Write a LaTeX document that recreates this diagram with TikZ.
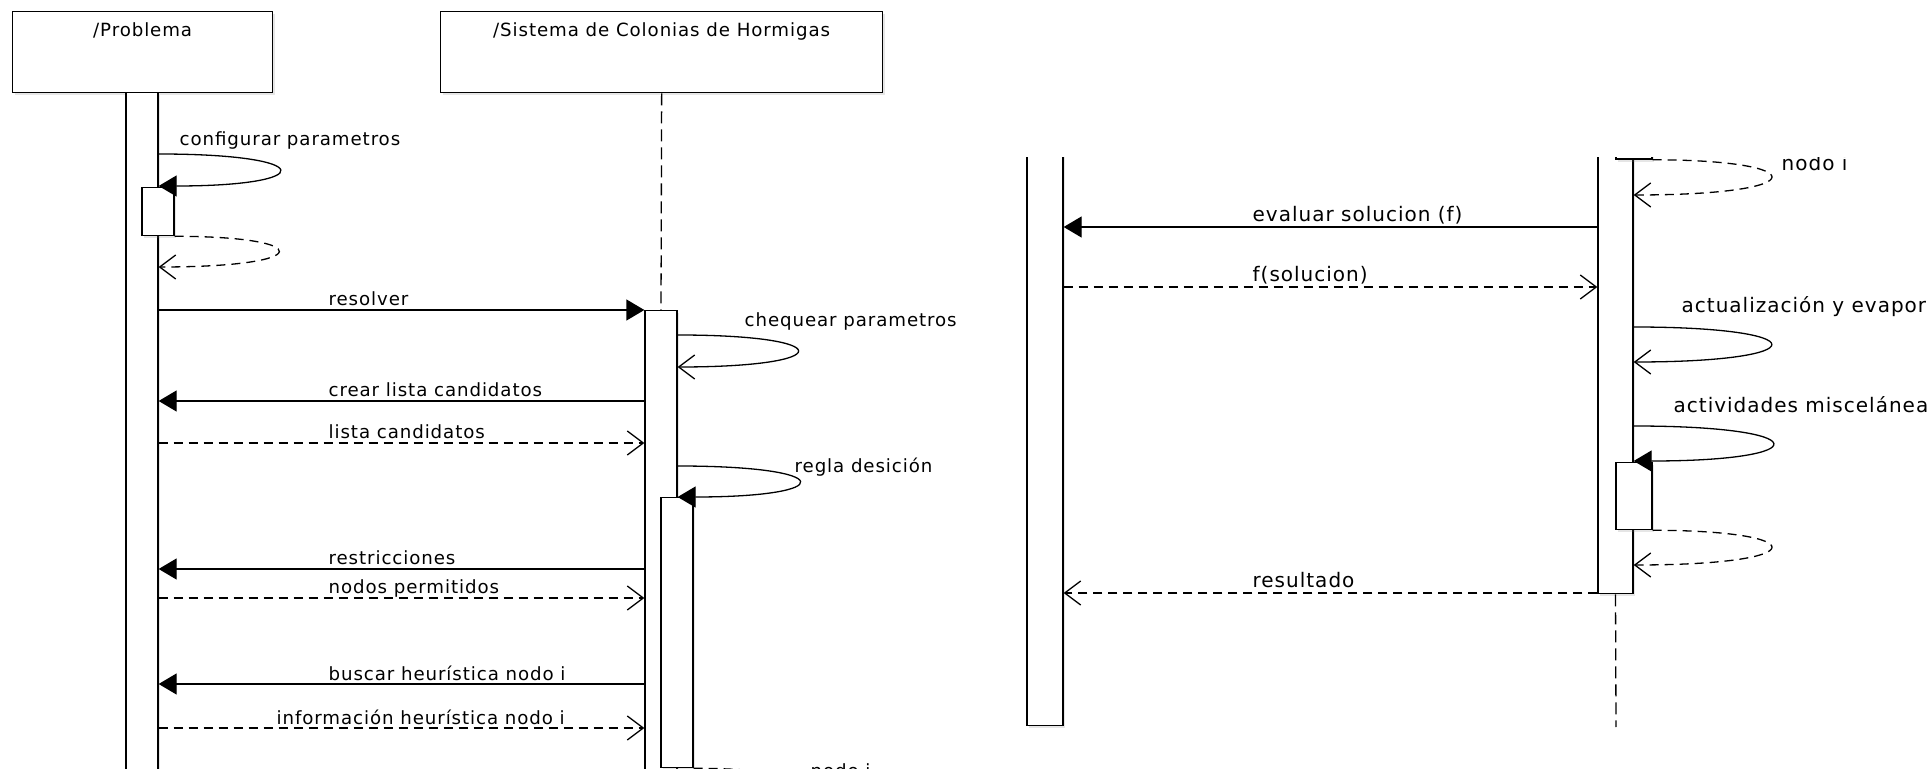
\documentclass[tikz,border=0pt]{standalone}
\usepackage{fontspec}
\setmainfont[LetterSpace=5]{DejaVu Sans}
\usetikzlibrary{arrows.meta,shadows}

\tikzset{
	umlbox/.style={draw,fill=white,anchor=north west,inner sep=0pt,minimum height=40.5pt,drop shadow={shadow xshift=1.2pt,shadow yshift=-1.2pt,opacity=0.2}},
	act/.style={draw,fill=white,anchor=north,inner sep=0pt,minimum width=16pt,drop shadow={shadow xshift=1.2pt,shadow yshift=-1.2pt,opacity=0.2}},
	lifeline/.style={dash pattern=on 6pt off 3pt},
	call/.style={-{Triangle[length=9pt,width=10.5pt]}},
	async/.style={-{Straight Barb[length=8pt,width=12pt]}},
	reply/.style={async,dash pattern=on 4.5pt off 3pt},
	lbl/.style={anchor=base west,inner sep=0pt}
}

\begin{document}
\begin{tikzpicture}[x=0.5pt,y=-0.5pt,line width=0.65pt,font=\fontsize{9.1}{11}\selectfont]
	\useasboundingbox (0,0) rectangle (1927,769);
	\clip (0,0) rectangle (1927,769);
	\node[umlbox,minimum width=130pt,label={[anchor=base,yshift=-13pt]north:/Problema}] (problema) at (12,11) {};
	\node[umlbox,minimum width=221pt,label={[anchor=base,yshift=-13pt]north:/Sistema de Colonias de Hormigas}] (sistema) at (440,11) {};
	\node[act,minimum height=344pt] (barP) at (142,92) {};
	\node[act,minimum height=24pt] (actP) at (158,187) {};
	\node[act,minimum height=235pt] (barS) at (661,310) {};
	\node[act,minimum height=135pt] (actS) at (677,497) {};
	\draw[lifeline] (sistema.south) -- (barS.north);

	\draw[call] (barP.east |- 0,154) .. controls +(160,0) and +(160,0) .. (barP.east |- 0,186);
	\node[lbl] at (179,146) {configurar parametros};
	\draw[reply] (actP.south east) .. controls +(140,0) and +(160,0) .. (barP.east |- 0,267);
	\draw[call] (barP.east |- 0,310) -- (barS.west |- 0,310);
	\node[lbl] at (328,306) {resolver};
	\draw[async] (barS.east |- 0,335) .. controls +(161,0) and +(161,0) .. (barS.east |- 0,367);
	\node[lbl] at (744,327) {chequear parametros};
	\draw[call] (barS.west |- 0,401) -- (barP.east |- 0,401);
	\node[lbl] at (328,397) {crear lista candidatos};
	\draw[reply] (barP.east |- 0,443) -- (barS.west |- 0,443);
	\node[lbl] at (328,439) {lista candidatos};
	\draw[call] (barS.east |- 0,466) .. controls +(161,0) and +(161,0) .. (barS.east |- 0,497);
	\node[lbl] at (794,473) {regla desición};
	\draw[call] (barS.west |- 0,569) -- (barP.east |- 0,569);
	\node[lbl] at (328,565) {restricciones};
	\draw[reply] (barP.east |- 0,598) -- (barS.west |- 0,598);
	\node[lbl] at (328,594) {nodos permitidos};
	\draw[call] (barS.west |- 0,684) -- (barP.east |- 0,684);
	\node[lbl] at (328,680) {buscar heurística nodo i};
	\draw[reply] (barP.east |- 0,728) -- (barS.west |- 0,728);
	\node[lbl] at (276,724) {información heurística nodo i};
	\draw[reply] (actS.south east) .. controls +(140,0) and +(161,0) .. (barS.east |- 0,800);
	\node[lbl] at (810,777) {nodo i};

	\begin{scope}[font=\fontsize{10}{12}\selectfont]
		\clip (1000,157.8) rectangle (1927,769);
		\node[act,minimum width=18pt,minimum height=300pt] (barL) at (1045,125) {};
		\node[act,minimum width=17.5pt,minimum height=234pt] (barR) at (1615.5,125) {};
		\node[act,minimum width=18pt,minimum height=40pt] (actR0) at (1634,78.5) {};
		\node[act,minimum width=18pt,minimum height=33.5pt] (actR) at (1634,462) {};
		\coordinate (endR) at (1616,727);
		\draw[lifeline] (barR.south) -- (endR);
		\draw[reply] (actR0.south east) .. controls +(159,0) and +(184,0) .. (barR.east |- 0,195);
		\node[lbl] at (1781,171) {nodo i};
		\draw[call] (barR.west |- 0,227) -- (barL.east |- 0,227);
		\node[lbl] at (1252,222) {evaluar solucion (f)};
		\draw[reply] (barL.east |- 0,287) -- (barR.west |- 0,287);
		\node[lbl] at (1252,282) {f(solucion)};
		\draw[async] (barR.east |- 0,327) .. controls +(184,0) and +(184,0) .. (barR.east |- 0,362);
		\node[lbl] at (1681,313) {actualización y evaporación};
		\draw[call] (barR.east |- 0,426) .. controls +(184,0) and +(184,0) .. (barR.east |- 0,461);
		\node[lbl] at (1673,413) {actividades misceláneas};
		\draw[reply] (actR.south east) .. controls +(159,0) and +(184,0) .. (barR.east |- 0,565);
		\draw[reply] (barR.west |- 0,593) -- (barL.east |- 0,593);
		\node[lbl] at (1252,588) {resultado};
	\end{scope}
\end{tikzpicture}
\end{document}
